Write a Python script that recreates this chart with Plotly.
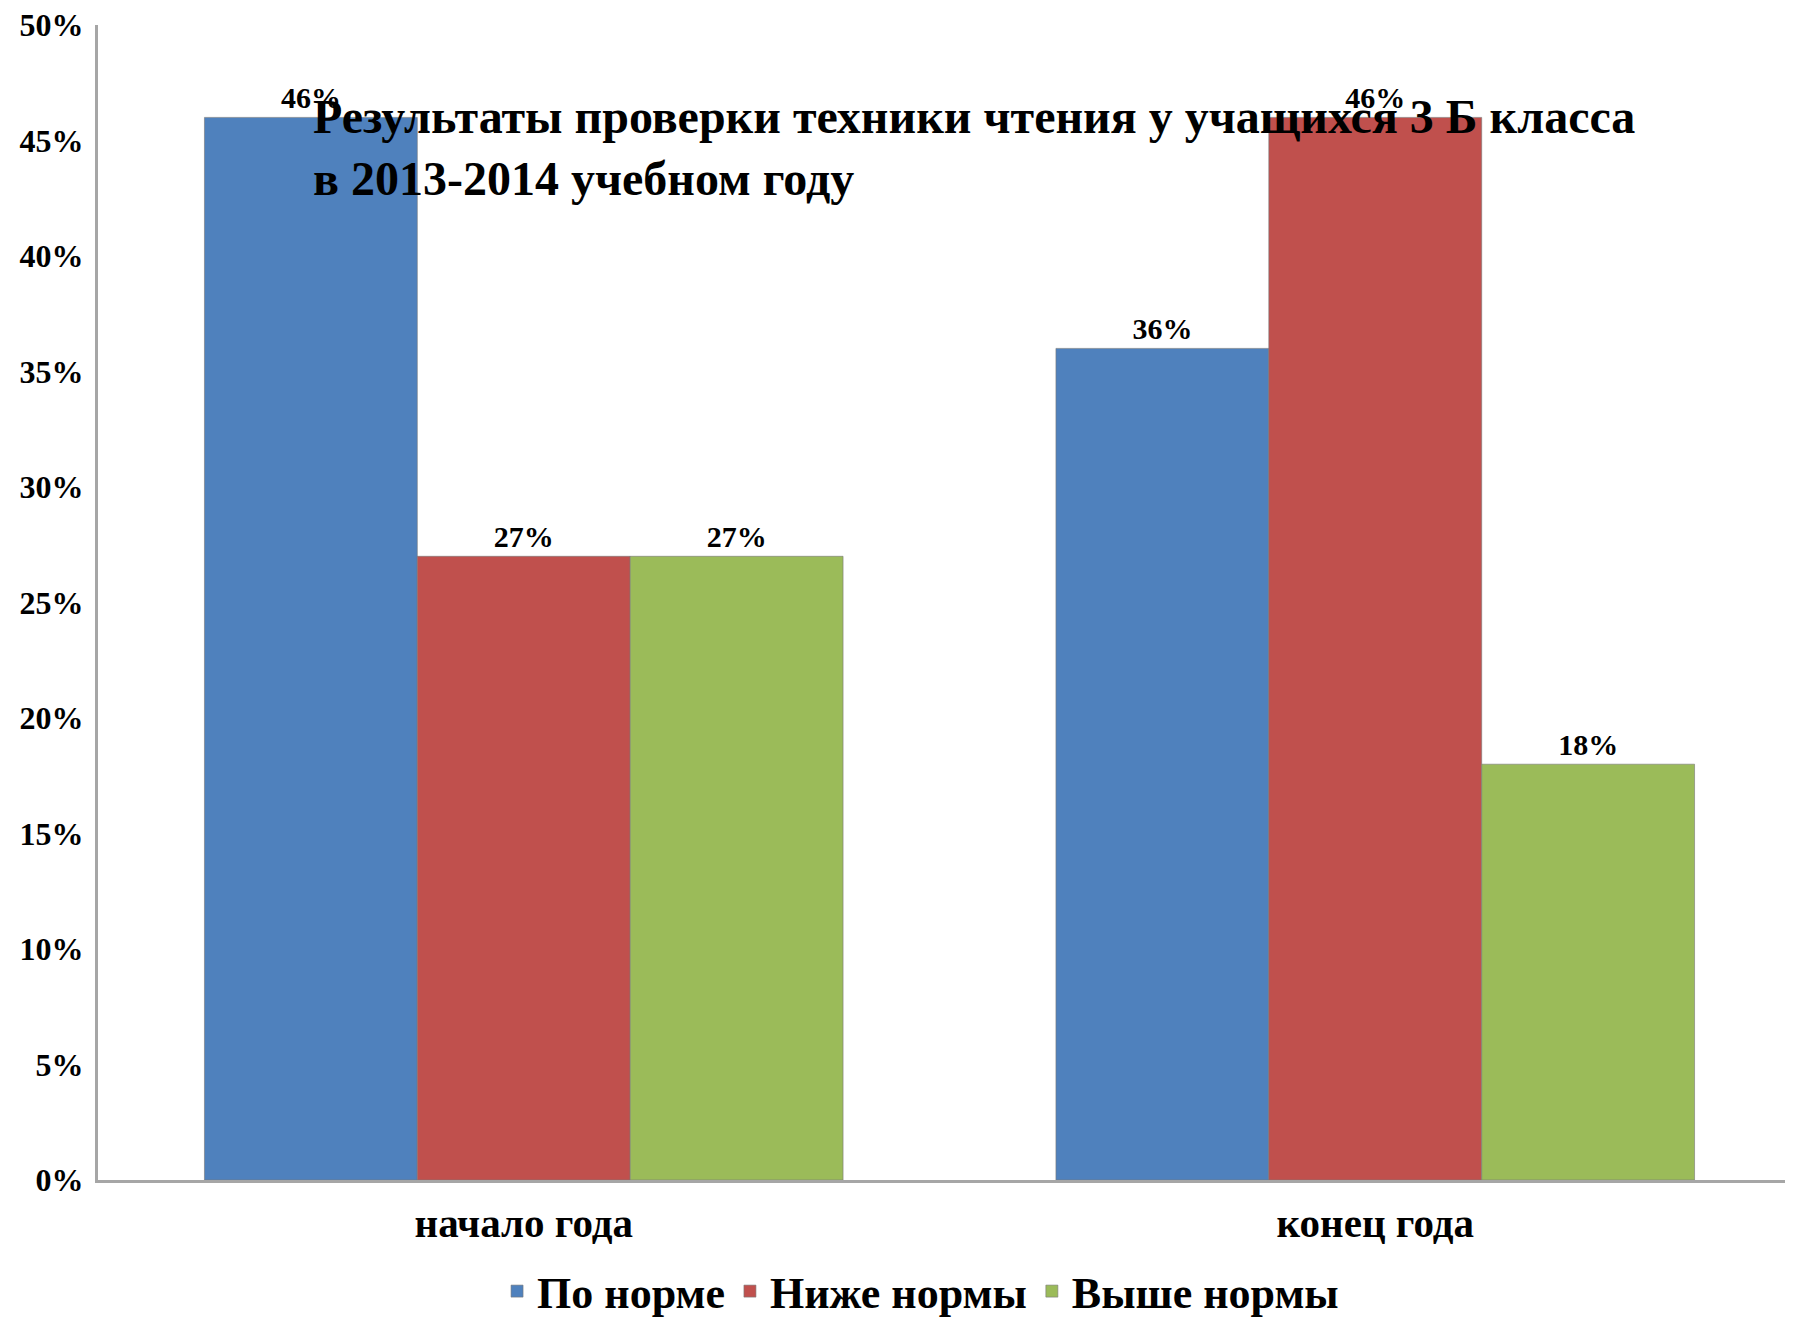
import plotly.graph_objects as go

categories = ["начало года", "конец года"]
series_names = ["По норме", "Ниже нормы", "Выше нормы"]
po_norme = [0.46, 0.36]
nizhe_normy = [0.27, 0.46]
vyshe_normy = [0.27, 0.18]
colors = ["#4F81BD", "#C0504D", "#9BBB59"]
title_text = "Результаты проверки техники чтения у учащихся 3 Б класса<br>в 2013-2014 учебном году"

FONT = "Liberation Serif, Times New Roman, serif"

fig = go.Figure()
for name, vals, col in zip(series_names, [po_norme, nizhe_normy, vyshe_normy], colors):
    fig.add_trace(go.Bar(
        x=categories, y=vals, name=name,
        marker=dict(color=col, line=dict(color="rgba(120,120,120,0.6)", width=1)),
        text=[f"{round(v*100)}%" for v in vals],
        textposition="outside",
        cliponaxis=False,
        textfont=dict(family=FONT, size=30, color="black", weight="bold"),
    ))

fig.update_layout(
    width=1793, height=1319,
    margin=dict(l=90, r=0, t=17, b=139),
    paper_bgcolor="white", plot_bgcolor="white",
    barmode="group", bargap=0.25, bargroupgap=0,
    showlegend=True,
    legend=dict(orientation="h", x=0.483, xanchor="center", y=-0.097, yanchor="middle",
                font=dict(family=FONT, size=44, color="black", weight="bold"),
                itemwidth=30, tracegroupgap=0),
    font=dict(family=FONT, color="black"),
)

fig.update_yaxes(
    range=[0, 0.5], dtick=0.05, tickformat=".0%",
    showgrid=False, zeroline=False,
    showline=True, linecolor="#A6A6A6", linewidth=3,
    ticks="", ticklabelstandoff=5, ticklabeloverflow="allow",
    tickfont=dict(family=FONT, size=32, color="black", weight="bold"),
)
fig.update_xaxes(
    showgrid=False, showline=True, linecolor="#A6A6A6", linewidth=3,
    ticks="", ticklabelstandoff=5,
    tickfont=dict(family=FONT, size=41, color="black", weight="bold"),
)

fig.add_annotation(
    text=title_text, xref="paper", yref="paper",
    x=0.125, y=0.894, xanchor="left", yanchor="middle", align="left",
    showarrow=False,
    font=dict(family=FONT, size=48, color="black", weight="bold"),
)

fig.write_html("out.html")
